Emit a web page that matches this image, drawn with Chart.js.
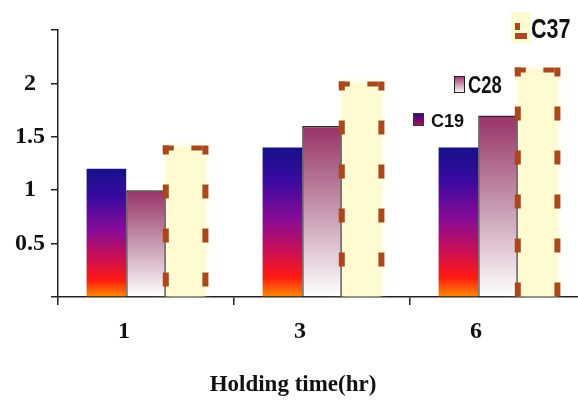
<!DOCTYPE html>
<html>
<head>
<meta charset="utf-8">
<script src="https://cdn.jsdelivr.net/npm/chart.js@4/dist/chart.umd.min.js"></script>
<style>
  html, body { margin: 0; padding: 0; background: #fff; overflow: hidden; }
  #wrap { width: 578px; height: 411px; overflow: hidden; position: relative; }
  canvas { display: block; }
</style>
</head>
<body>
<div id="wrap"><canvas id="c" width="586" height="411"></canvas></div>
<script>
// Holding time categories and the three series
const holdingTimes = ['1', '3', '6'];
const seriesNames = ['C19', 'C28', 'C37'];
const c19 = [1.2, 1.4, 1.4];
const c28 = [1.0, 1.6, 1.7];
const c37 = [1.4, 2.0, 2.13];
const yTickLabels = [0.5, 1, 1.5, 2];
const axisTitle = 'Holding time(hr)';

const serif = 'Liberation Serif';
const ink = '#111';

// Per-bar vertical gradient, spanning from the bar's value down to zero
function barGradient(stops) {
  return (ctx) => {
    const chart = ctx.chart;
    const y = chart.scales && chart.scales.y;
    if (!y || !chart.chartArea || ctx.type !== 'data' || !ctx.parsed) return stops[0][1];
    const top = y.getPixelForValue(ctx.parsed.y);
    const bottom = y.getPixelForValue(0);
    const g = chart.ctx.createLinearGradient(0, top, 0, bottom);
    stops.forEach(([o, c]) => g.addColorStop(o, c));
    return g;
  };
}

const c19Stops = [[0, '#16108a'], [0.22, '#3a0aa2'], [0.48, '#880c96'], [0.7, '#cc0f52'], [0.87, '#ff1a12'], [1, '#ff8c00']];
const c28Stops = [[0, '#983366'], [0.5, '#c699b0'], [1, '#ffffff']];

// Soft pale glow around the C37 bars
const softGlow = {
  id: 'softGlow',
  beforeDatasetDraw(chart, args) {
    if (args.index !== 2) return;
    chart.ctx.save();
    chart.ctx.shadowColor = 'rgba(255, 248, 200, 0.9)';
    chart.ctx.shadowBlur = 8;
  },
  afterDatasetDraw(chart, args) {
    if (args.index !== 2) return;
    chart.ctx.restore();
  }
};

// Dashed brown outline on the C37 bars
const dashedOutline = {
  id: 'dashedOutline',
  afterDatasetsDraw(chart) {
    const meta = chart.getDatasetMeta(2);
    const g = chart.ctx;
    meta.data.forEach(bar => {
      const { x, y, base, width } = bar.getProps(['x', 'y', 'base', 'width'], true);
      const l = x - width / 2, r = x + width / 2;
      g.save();
      g.strokeStyle = '#a8481c';
      g.lineCap = 'butt';
      g.lineWidth = 6;
      g.setLineDash([14, 30]);
      g.lineDashOffset = 5;
      [l, r].forEach(px => {
        g.beginPath(); g.moveTo(px, y - 2); g.lineTo(px, base); g.stroke();
      });
      g.lineWidth = 5;
      g.setLineDash([11, width - 22, 11]);
      g.lineDashOffset = 0;
      g.beginPath(); g.moveTo(l - 3, y + 0.5); g.lineTo(r + 3, y + 0.5); g.stroke();
      g.restore();
    });
  }
};

// Staggered legend entries placed inside the plot
const floatingLegend = {
  id: 'floatingLegend',
  afterDraw(chart) {
    const g = chart.ctx;
    const label = (text, x, base, size, sx) => {
      g.save();
      g.font = `bold ${size}px "Liberation Sans", Arial, sans-serif`;
      g.fillStyle = ink;
      g.textBaseline = 'alphabetic';
      g.translate(x, base);
      g.scale(sx, 1);
      g.fillText(text, 0, 0);
      g.restore();
    };
    g.save();
    // C19
    let gr = g.createLinearGradient(0, 113, 0, 126);
    gr.addColorStop(0, '#2a0a80'); gr.addColorStop(1, '#b0105e');
    g.fillStyle = gr; g.fillRect(413, 113, 11, 13);
    g.strokeStyle = '#333'; g.lineWidth = 1; g.strokeRect(413.5, 113.5, 10, 12);
    label(seriesNames[0], 431, 127, 19, 0.95);
    // C28
    gr = g.createLinearGradient(0, 76, 0, 93);
    gr.addColorStop(0, '#983366'); gr.addColorStop(1, '#ffffff');
    g.fillStyle = gr; g.fillRect(454, 76, 11, 17);
    g.strokeStyle = '#222'; g.strokeRect(454.5, 76.5, 10, 16);
    label(seriesNames[1], 468, 93, 23, 0.8);
    // C37
    g.fillStyle = '#fffad0'; g.fillRect(511, 12, 19, 31);
    g.fillStyle = '#a8481c';
    g.fillRect(515, 23, 5, 7);
    g.fillRect(515, 33, 12, 6);
    label(seriesNames[2], 531, 38, 27, 0.8);
    g.restore();
  }
};

new Chart(document.getElementById('c'), {
  type: 'bar',
  data: {
    labels: holdingTimes,
    datasets: [
      { label: seriesNames[0], data: c19, backgroundColor: barGradient(c19Stops), borderWidth: 0 },
      { label: seriesNames[1], data: c28, backgroundColor: barGradient(c28Stops),
        borderColor: '#2a2a2a', borderWidth: { top: 1.5, left: 1.5, right: 1.5, bottom: 0 } },
      { label: seriesNames[2], data: c37, backgroundColor: '#fffad0', borderWidth: 0 }
    ]
  },
  options: {
    responsive: false,
    animation: false,
    devicePixelRatio: 1,
    layout: { padding: { top: 30, left: 0, right: 0, bottom: 0 } },
    datasets: { bar: { categoryPercentage: 0.675, barPercentage: 1 } },
    plugins: {
      legend: { display: false },
      tooltip: { enabled: false },
      title: {
        display: true, position: 'bottom', fullSize: true, text: axisTitle, color: ink,
        font: { family: serif, size: 23, weight: 'bold', lineHeight: 1.2 },
        padding: { top: 0, bottom: 12 }
      }
    },
    scales: {
      x: {
        grid: { display: true, drawOnChartArea: false, tickLength: 8, color: '#222', lineWidth: 1.5 },
        border: { display: true, color: '#222', width: 1.5 },
        ticks: { font: { family: serif, size: 24, weight: 'bold' }, color: ink, padding: 12, labelOffset: -22 },
        afterFit(s) { s.height = 74.4; }
      },
      y: {
        min: 0, max: 2.5,
        grid: { display: true, drawOnChartArea: false, tickLength: 7, color: '#222', lineWidth: 1.5 },
        border: { display: true, color: '#222', width: 1.5 },
        ticks: {
          stepSize: 0.5, crossAlign: 'center', padding: 6, color: ink,
          font: { family: serif, size: 24, weight: 'bold' },
          callback: v => yTickLabels.includes(v) ? String(v) : ''
        },
        afterFit(s) { s.width = 58; }
      }
    }
  },
  plugins: [softGlow, dashedOutline, floatingLegend]
});
</script>
</body>
</html>
